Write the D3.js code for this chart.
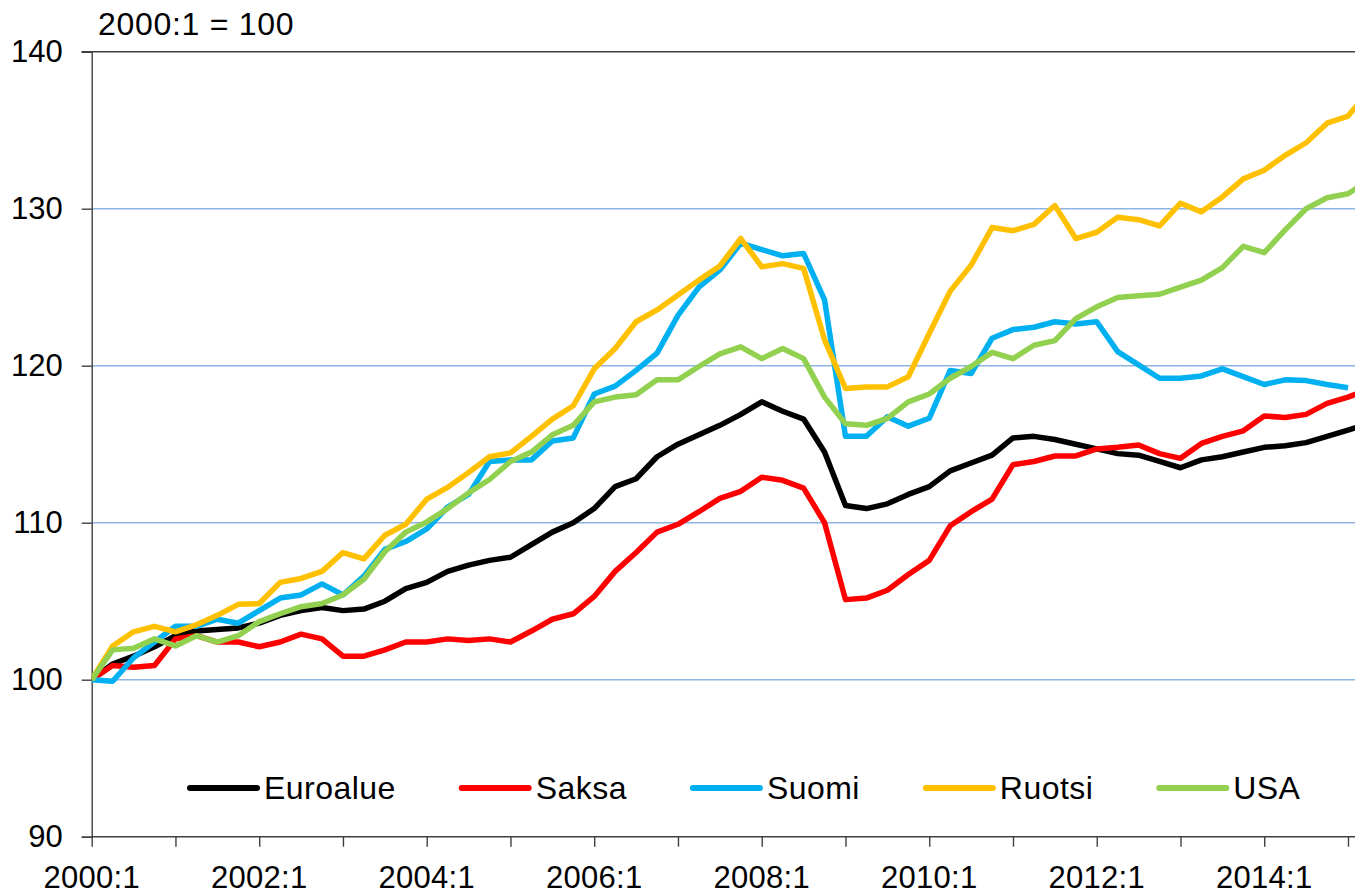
<!DOCTYPE html>
<html>
<head>
<meta charset="utf-8">
<script src="https://cdn.jsdelivr.net/npm/d3@7"></script>
<style>
  html, body { margin: 0; padding: 0; background: #fff; }
  svg { display: block; font-family: "Liberation Sans", Arial, sans-serif; }
</style>
</head>
<body>
<svg id="chart" width="1355" height="894"></svg>
<script>
// ---- data (quarterly index, 2000:1 = 100; index 0 = 2000:1) ----
const seriesNames = ["Euroalue", "Saksa", "Suomi", "Ruotsi", "USA"];
const seriesColors = ["#000000", "#FF0000", "#00B0F0", "#FFC000", "#92D050"];

const euroalue = [100, 101.0, 101.5, 102.1, 102.8, 103.1, 103.2, 103.3, 103.6, 104.1, 104.4, 104.6,
  104.4, 104.5, 105.0, 105.8, 106.2, 106.9, 107.3, 107.6, 107.8, 108.6, 109.4, 110.0,
  110.9, 112.3, 112.8, 114.2, 115.0, 115.6, 116.2, 116.9, 117.7, 117.1, 116.6, 114.5,
  111.1, 110.9, 111.2, 111.8, 112.3, 113.3, 113.8, 114.3, 115.4, 115.5, 115.3, 115.0,
  114.7, 114.4, 114.3, 113.9, 113.5, 114.0, 114.2, 114.5, 114.8, 114.9, 115.1, 115.5,
  115.9, 116.3];
const saksa = [100, 100.9, 100.8, 100.9, 102.6, 102.8, 102.4, 102.4, 102.1, 102.4, 102.9, 102.6,
  101.5, 101.5, 101.9, 102.4, 102.4, 102.6, 102.5, 102.6, 102.4, 103.1, 103.85, 104.2,
  105.3, 106.9, 108.1, 109.4, 109.9, 110.7, 111.55, 112.0, 112.9, 112.7, 112.2, 110.0,
  105.1, 105.2, 105.7, 106.7, 107.6, 109.8, 110.7, 111.5, 113.7, 113.9, 114.25, 114.25,
  114.7, 114.8, 114.95, 114.4, 114.1, 115.05, 115.5, 115.85, 116.8, 116.7, 116.9, 117.6,
  118.0, 118.5];
const suomi = [100, 99.9, 101.4, 102.4, 103.4, 103.4, 103.85, 103.6, 104.4, 105.2, 105.4, 106.1,
  105.4, 106.6, 108.3, 108.8, 109.6, 111.0, 111.8, 113.9, 114.0, 114.0, 115.2, 115.4,
  118.2, 118.7, 119.7, 120.8, 123.2, 125.0, 126.1, 127.8, 127.4, 127.0, 127.15, 124.2,
  115.5, 115.5, 116.75, 116.15, 116.65, 119.7, 119.5, 121.75, 122.3, 122.45, 122.8, 122.65,
  122.8, 120.9, 120.05, 119.2, 119.2, 119.35, 119.8, 119.3, 118.8, 119.1, 119.05, 118.8,
  118.6];
const ruotsi = [100, 102.15, 103.05, 103.4, 103.05, 103.5, 104.1, 104.8, 104.85, 106.2, 106.45, 106.9,
  108.1, 107.7, 109.2, 109.9, 111.5, 112.25, 113.2, 114.2, 114.45, 115.5, 116.6, 117.45,
  119.8, 121.1, 122.8, 123.55, 124.5, 125.45, 126.35, 128.1, 126.3, 126.5, 126.2, 121.65,
  118.55, 118.65, 118.65, 119.3, 122.05, 124.75, 126.4, 128.8, 128.6, 129.0, 130.2, 128.1,
  128.5, 129.45, 129.3, 128.9, 130.35, 129.8, 130.75, 131.9, 132.45, 133.4, 134.2, 135.45,
  135.9, 137.5];
const usa = [100, 101.9, 102.0, 102.6, 102.15, 102.8, 102.4, 102.8, 103.7, 104.2, 104.65, 104.85,
  105.4, 106.4, 108.15, 109.4, 110.05, 110.9, 111.9, 112.75, 113.9, 114.5, 115.6, 116.2,
  117.7, 118.0, 118.15, 119.1, 119.1, 119.95, 120.75, 121.2, 120.45, 121.1, 120.45, 118.0,
  116.3, 116.2, 116.65, 117.7, 118.2, 119.2, 119.95, 120.85, 120.45, 121.3, 121.6, 123.0,
  123.75, 124.35, 124.45, 124.55, 125.0, 125.45, 126.25, 127.6, 127.2, 128.65, 130.0, 130.7,
  130.95, 131.8];

const seriesValues = [euroalue, saksa, suomi, ruotsi, usa];

const yTicks = [90, 100, 110, 120, 130, 140];
const xLabelQuarters = [0, 8, 16, 24, 32, 40, 48, 56];
const xLabels = ["2000:1", "2002:1", "2004:1", "2006:1", "2008:1", "2010:1", "2012:1", "2014:1"];
const xTickQuarters = [0, 4, 8, 12, 16, 20, 24, 28, 32, 36, 40, 44, 48, 52, 56, 60];
const unitLabel = "2000:1 = 100";

(function () {
  const W = 1355, H = 894;
  const svg = d3.select("#chart");
  const pLeft = 91.7, pRight = 1348, pTop = 51.7, pBottom = 836.7;

  const x = d3.scaleLinear().domain([0, 60]).range([pLeft, pRight]);
  const y = d3.scaleLinear().domain([90, 140]).range([pBottom, pTop]);

  svg.append("defs").append("clipPath").attr("id", "plotclip")
    .append("rect").attr("x", pLeft).attr("y", 0).attr("width", W - pLeft).attr("height", H);

  // gridlines (100..130)
  svg.append("g").selectAll("line").data(yTicks.filter(v => v > 90 && v < 140)).join("line")
    .attr("x1", pLeft).attr("x2", W).attr("y1", d => y(d)).attr("y2", d => y(d))
    .attr("stroke", "#8EB4E3").attr("stroke-width", 1.4);

  // top border line at 140
  svg.append("line").attr("x1", pLeft - 10).attr("x2", W).attr("y1", y(140)).attr("y2", y(140))
    .attr("stroke", "#404040").attr("stroke-width", 1.4);

  // y axis
  const yAxis = d3.axisLeft(y).tickValues(yTicks).tickSize(10).tickPadding(19).tickFormat(d3.format("d"));
  const gy = svg.append("g").attr("transform", `translate(${pLeft},0)`).call(yAxis);
  gy.select(".domain").attr("stroke", "#404040").attr("stroke-width", 1.4);
  gy.selectAll(".tick line").attr("stroke", "#404040").attr("stroke-width", 1.4);
  gy.selectAll(".tick text").attr("font-size", 31).attr("fill", "#000")
    .attr("font-family", "'Liberation Sans', Arial, sans-serif");

  // x axis
  const xAxis = d3.axisBottom(x).tickValues(xTickQuarters).tickSize(10).tickFormat("");
  const gx = svg.append("g").attr("transform", `translate(0,${pBottom})`).call(xAxis);
  gx.select(".domain").attr("stroke", "#404040").attr("stroke-width", 1.4)
    .attr("d", `M${pLeft},0H${W}`);
  gx.selectAll(".tick line").attr("stroke", "#404040").attr("stroke-width", 1.4);

  svg.append("g").selectAll("text").data(xLabelQuarters).join("text")
    .attr("x", d => x(d)).attr("y", 888)
    .attr("text-anchor", "middle").attr("font-size", 31).attr("letter-spacing", 0.3).attr("fill", "#000")
    .text((d, i) => xLabels[i]);

  // unit label
  svg.append("text").attr("x", 98).attr("y", 35).attr("font-size", 32).attr("letter-spacing", 0.7)
    .attr("fill", "#000").text(unitLabel);

  // lines
  const line = d3.line().x((d, i) => x(i)).y(d => y(d));
  const gl = svg.append("g").attr("clip-path", "url(#plotclip)");
  seriesValues.forEach((vals, k) => {
    gl.append("path").datum(vals)
      .attr("d", line)
      .attr("fill", "none")
      .attr("stroke", seriesColors[k])
      .attr("stroke-width", 5.5)
      .attr("stroke-linejoin", "round");
  });

  // legend
  const legend = svg.append("g");
  let lx = 190;
  const ly = 788;
  seriesNames.forEach((name, k) => {
    legend.append("line").attr("x1", lx).attr("x2", lx + 67).attr("y1", ly).attr("y2", ly)
      .attr("stroke", seriesColors[k]).attr("stroke-width", 6).attr("stroke-linecap", "round");
    const t = legend.append("text").attr("x", lx + 74).attr("y", 799)
      .attr("font-size", 32).attr("letter-spacing", 0.45).attr("fill", "#000").text(name);
    lx = lx + 74 + t.node().getComputedTextLength() + 66;
  });
})();
</script>
</body>
</html>
